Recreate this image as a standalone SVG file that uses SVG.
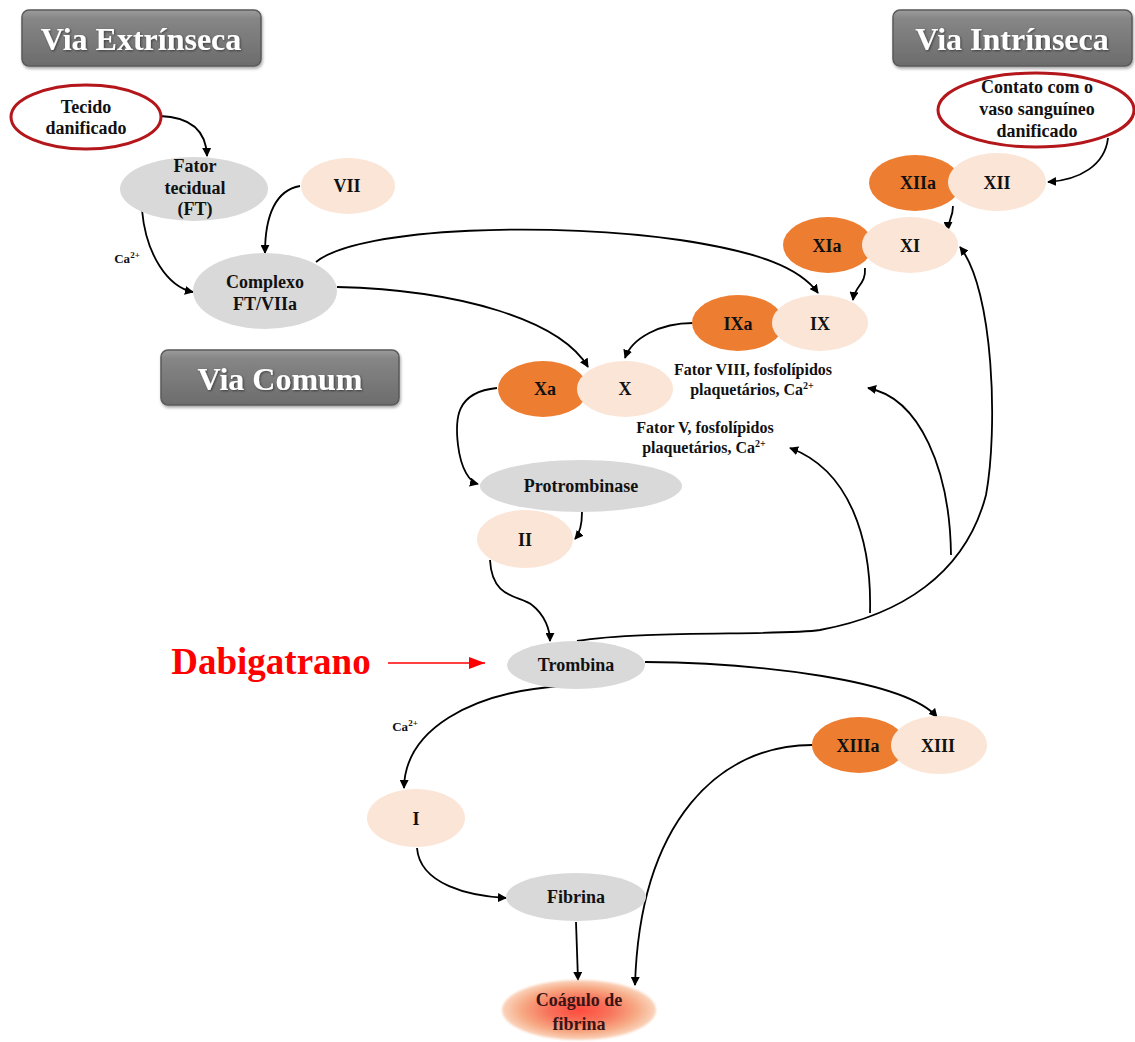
<svg xmlns="http://www.w3.org/2000/svg" width="1135" height="1042" viewBox="0 0 1135 1042">
<style>
text{font-family:"Liberation Serif","Times New Roman",serif;font-weight:bold;text-anchor:middle;fill:#111}
.nt{font-size:18px}
.lbl{font-size:16px}
.ca{font-size:13px}
.hd{font-size:32px;fill:#fff}
.gray{fill:#D9D9D9}
.peach{fill:#FBE5D6}
.orange{fill:#ED7D31}
.red{fill:#fff;stroke:#B3161B;stroke-width:3}
.hdr{fill:url(#hg);stroke:#5a5a5a;stroke-width:1.5}
.c{fill:none;stroke:#000;stroke-width:1.8;marker-end:url(#ah)}
</style>
<defs>
<marker id="ah" viewBox="0 0 10 10" refX="9" refY="5" markerWidth="9" markerHeight="9" markerUnits="userSpaceOnUse" orient="auto">
<path d="M0,0 L10,5 L0,10 Z" fill="#000"/>
</marker>
<marker id="rah" viewBox="0 0 10 10" refX="10" refY="5" markerWidth="16" markerHeight="12" markerUnits="userSpaceOnUse" orient="auto" preserveAspectRatio="none">
<path d="M0,0 L10,5 L0,10 Z" fill="#F00"/>
</marker>
<linearGradient id="hg" x1="0" y1="0" x2="0" y2="1">
<stop offset="0" stop-color="#9d9d9d"/>
<stop offset="0.15" stop-color="#868686"/>
<stop offset="1" stop-color="#6c6c6c"/>
</linearGradient>
<radialGradient id="cg" cx="0.5" cy="0.5" r="0.5">
<stop offset="0" stop-color="#FF4A3D"/>
<stop offset="0.4" stop-color="#F8725A"/>
<stop offset="0.75" stop-color="#F7AA85"/>
<stop offset="1" stop-color="#FAD5BE"/>
</radialGradient>
<filter id="sh" x="-10%" y="-20%" width="120%" height="150%">
<feDropShadow dx="1" dy="2" stdDeviation="1.5" flood-color="#000" flood-opacity="0.35"/>
</filter>
<filter id="ts" x="-5%" y="-20%" width="110%" height="140%">
<feDropShadow dx="1" dy="1" stdDeviation="0.8" flood-color="#000" flood-opacity="0.5"/>
</filter>
<filter id="soft" x="-10%" y="-20%" width="120%" height="140%">
<feGaussianBlur stdDeviation="1.2"/>
</filter>
</defs>
<rect width="1135" height="1042" fill="#fff"/>

<g id="hdr-extrinseca">
<rect class="hdr" x="22" y="10" width="239" height="56" rx="7" filter="url(#sh)"/>
<text class="hd" x="141" y="50" filter="url(#ts)">Via Extrínseca</text>
</g>
<g id="hdr-intrinseca">
<rect class="hdr" x="893" y="10" width="239" height="56" rx="7" filter="url(#sh)"/>
<text class="hd" x="1012" y="50" filter="url(#ts)">Via Intrínseca</text>
</g>
<g id="hdr-comum">
<rect class="hdr" x="161" y="350" width="238" height="55" rx="7" filter="url(#sh)"/>
<text class="hd" x="280" y="390" filter="url(#ts)">Via Comum</text>
</g>

<g id="connectors">
<path class="c" d="M160,116 C190,117 206,130 207,156" stroke-width="3"/>
<path class="c" d="M142,210 C146,255 168,287 193,292"/>
<path class="c" d="M300,186 C276,190 265,215 265,253"/>
<path class="c" d="M316,262 C360,226 560,222 680,240 C760,252 800,268 818,293"/>
<path class="c" d="M337,287 C460,290 560,320 588,367"/>
<path class="c" d="M1108,138 C1105,165 1080,180 1048,182"/>
<path class="c" d="M953,206 C953,218 948,220 948,230"/>
<path class="c" d="M865,268 C866,285 855,285 853,300"/>
<path class="c" d="M693,323 C660,323 632,338 625,358"/>
<path class="c" d="M497,388 C455,392 455,420 458,445 C461,470 470,482 478,484"/>
<path class="c" d="M582,512 C582,525 580,533 575,539"/>
<path class="c" d="M490,560 C492,600 520,595 532,605 C545,615 550,630 550,641"/>
<path class="c" d="M577,641 C640,630 780,636 820,630 C900,615 965,575 986,495 C998,430 994,290 960,247"/>
<path class="c" d="M870,613 C872,540 850,470 790,448"/>
<path class="c" d="M951,555 C950,470 920,398 868,388"/>
<path class="c" d="M645,662 C760,663 905,680 937,717"/>
<path class="c" d="M562,686 C470,692 405,730 404,788"/>
<path class="c" d="M417,848 C420,885 470,896 506,898"/>
<path class="c" d="M576,922 L578,980"/>
<path class="c" d="M812,745 C720,745 640,820 635,985"/>
<path d="M388,663 L485,663" fill="none" stroke="#F00" stroke-width="1.5" marker-end="url(#rah)"/>
</g>

<g id="n-tecido">
<ellipse class="red" cx="86" cy="117" rx="75" ry="32"/>
<text class="nt" x="86" y="113">Tecido</text>
<text class="nt" x="86" y="134">danificado</text>
</g>
<g id="n-ft">
<ellipse class="gray" cx="194" cy="189" rx="74" ry="32"/>
<text class="nt" x="195" y="172">Fator</text>
<text class="nt" x="195" y="194">tecidual</text>
<text class="nt" x="195" y="215">(FT)</text>
</g>
<g id="n-vii">
<ellipse class="peach" cx="348" cy="186" rx="47" ry="28"/>
<text class="nt" x="347" y="192">VII</text>
</g>
<g id="n-complexo">
<ellipse class="gray" cx="265" cy="291" rx="72" ry="38"/>
<text class="nt" x="265" y="288">Complexo</text>
<text class="nt" x="265" y="310">FT/VIIa</text>
</g>
<g id="n-contato">
<ellipse class="red" cx="1036" cy="110" rx="98" ry="37"/>
<text class="nt" x="1037" y="93">Contato com o</text>
<text class="nt" x="1037" y="115">vaso sanguíneo</text>
<text class="nt" x="1037" y="137">danificado</text>
</g>
<g id="n-xii">
<ellipse class="orange" cx="915" cy="183" rx="46" ry="28"/>
<ellipse class="peach" cx="997" cy="182" rx="49" ry="29"/>
<text class="nt" x="918" y="189">XIIa</text>
<text class="nt" x="997" y="189">XII</text>
</g>
<g id="n-xi">
<ellipse class="orange" cx="828" cy="245" rx="45" ry="28"/>
<ellipse class="peach" cx="910" cy="245" rx="48" ry="28"/>
<text class="nt" x="827" y="252">XIa</text>
<text class="nt" x="910" y="252">XI</text>
</g>
<g id="n-ix">
<ellipse class="orange" cx="738" cy="323" rx="46" ry="28"/>
<ellipse class="peach" cx="820" cy="323" rx="48" ry="28"/>
<text class="nt" x="738" y="330">IXa</text>
<text class="nt" x="820" y="330">IX</text>
</g>
<g id="n-x">
<ellipse class="orange" cx="543" cy="389" rx="45" ry="28"/>
<ellipse class="peach" cx="625" cy="389" rx="48" ry="28"/>
<text class="nt" x="545" y="395">Xa</text>
<text class="nt" x="625" y="395">X</text>
</g>
<g id="lbl-viii">
<text class="lbl" x="753" y="375">Fator VIII, fosfolípidos</text>
<text class="lbl" x="752" y="395">plaquetários, Ca<tspan font-size="10" dy="-6">2+</tspan></text>
</g>
<g id="lbl-v">
<text class="lbl" x="705" y="433">Fator V, fosfolípidos</text>
<text class="lbl" x="704" y="453">plaquetários, Ca<tspan font-size="10" dy="-6">2+</tspan></text>
</g>
<g id="n-protrombinase">
<ellipse class="gray" cx="581" cy="486" rx="101" ry="26"/>
<text class="nt" x="581" y="492">Protrombinase</text>
</g>
<g id="n-ii">
<ellipse class="peach" cx="525" cy="539" rx="48" ry="29"/>
<text class="nt" x="525" y="546">II</text>
</g>
<g id="n-trombina">
<ellipse class="gray" cx="576" cy="665" rx="69" ry="24"/>
<text class="nt" x="576" y="671">Trombina</text>
</g>
<g id="n-dabigatrano">
<text x="271" y="674" font-size="37" style="fill:#F00">Dabigatrano</text>
</g>
<g id="lbl-ca1">
<text class="ca" x="127" y="263">Ca<tspan font-size="9" dy="-5">2+</tspan></text>
</g>
<g id="lbl-ca2">
<text class="ca" x="405" y="731">Ca<tspan font-size="9" dy="-5">2+</tspan></text>
</g>
<g id="n-xiii">
<ellipse class="orange" cx="859" cy="745" rx="47" ry="28"/>
<ellipse class="peach" cx="939" cy="745" rx="48" ry="29"/>
<text class="nt" x="858" y="752">XIIIa</text>
<text class="nt" x="938" y="752">XIII</text>
</g>
<g id="n-i">
<ellipse class="peach" cx="416" cy="818" rx="49" ry="29"/>
<text class="nt" x="416" y="825">I</text>
</g>
<g id="n-fibrina">
<ellipse class="gray" cx="576" cy="897" rx="70" ry="24"/>
<text class="nt" x="576" y="903">Fibrina</text>
</g>
<g id="n-coagulo">
<ellipse cx="579" cy="1010" rx="77" ry="30" fill="url(#cg)" filter="url(#soft)"/>
<text class="nt" x="579" y="1006" style="fill:#3a1414">Coágulo de</text>
<text class="nt" x="579" y="1030" style="fill:#3a1414">fibrina</text>
</g>
</svg>
